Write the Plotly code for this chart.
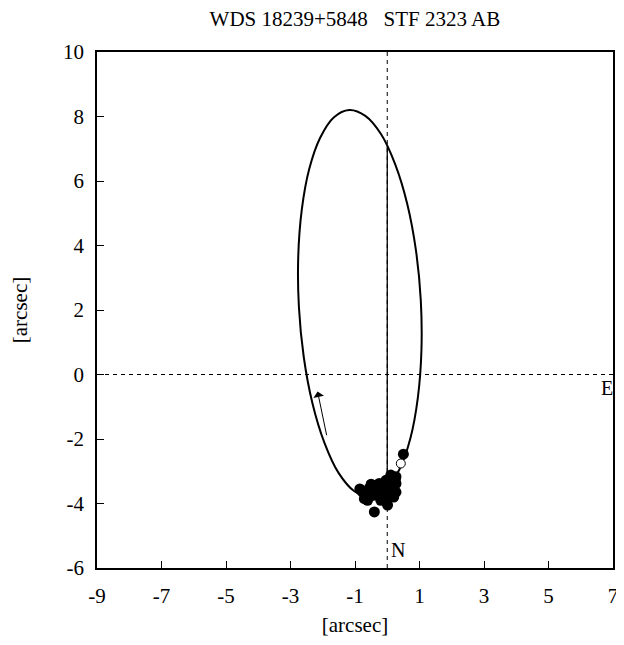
import plotly.graph_objects as go

# Orbit ellipse, points (arcsec)
orbit_x = [-1.18, -0.68, -0.19, 0.25, 0.62, 0.89, 1.04, 1.06, 0.95, 0.72, 0.38, -0.04, -0.52,
           -1.02, -1.51, -1.95, -2.32, -2.59, -2.74, -2.76, -2.65, -2.42, -2.08, -1.66, -1.18]
orbit_y = [8.20, 8.02, 7.45, 6.51, 5.29, 3.85, 2.30, 0.75, -0.71, -1.97, -2.94, -3.57, -3.80,
           -3.62, -3.05, -2.11, -0.89, 0.55, 2.10, 3.65, 5.11, 6.37, 7.34, 7.97, 8.20]

# Line of nodes
node_x = [0.0, 0.0]
node_y = [7.08, -3.56]

# Observations (filled)
obs_x = [0.50, 0.11, 0.27, 0.27, 0.27, -0.04, -0.25, -0.30, -0.56, -0.77, -0.71, -0.61, -0.40, 0.01,
         0.01, 0.18, 0.05, -0.15, -0.45, -0.35, -0.10, 0.20, -0.65, -0.20, 0.12, -0.50, -0.85, 0.25, -0.05]
obs_y = [-2.47, -3.12, -3.17, -3.38, -3.65, -3.28, -3.38, -3.69, -3.53, -3.64, -3.85, -3.90, -4.26, -3.85,
         -4.05, -3.50, -3.45, -3.55, -3.75, -3.45, -3.80, -3.80, -3.70, -3.90, -3.30, -3.40, -3.55, -3.25, -3.65]

# Open observation
open_x = [0.42]
open_y = [-2.76]

# Motion arrow (tail -> head)
arrow_tail = (-1.87, -1.93)
arrow_head = (-2.16, -0.53)

x_ticks = [-9, -7, -5, -3, -1, 1, 3, 5, 7]
y_ticks = [-6, -4, -2, 0, 2, 4, 6, 8, 10]

FONT = "Liberation Serif"
NB = "\u00a0"

fig = go.Figure()

# Dashed axes through origin
fig.add_trace(go.Scatter(x=[-9, 7], y=[0, 0], mode="lines",
                         line=dict(color="black", width=1, dash="4px,4px"), hoverinfo="skip"))
fig.add_trace(go.Scatter(x=[0, 0], y=[-6, 10], mode="lines",
                         line=dict(color="black", width=1, dash="4px,4px"), hoverinfo="skip"))

fig.add_trace(go.Scatter(x=orbit_x, y=orbit_y, mode="lines",
                         line=dict(color="black", width=2, shape="spline", smoothing=1.0)))
fig.add_trace(go.Scatter(x=node_x, y=node_y, mode="lines",
                         line=dict(color="black", width=1.3)))
fig.add_trace(go.Scatter(x=obs_x, y=obs_y, mode="markers",
                         marker=dict(color="black", size=11, line=dict(width=0))))
fig.add_trace(go.Scatter(x=open_x, y=open_y, mode="markers",
                         marker=dict(color="white", size=9, line=dict(color="black", width=1))))

fig.add_annotation(x=arrow_head[0], y=arrow_head[1], ax=arrow_tail[0], ay=arrow_tail[1],
                   xref="x", yref="y", axref="x", ayref="y", showarrow=True,
                   arrowhead=1, arrowsize=1.8, arrowwidth=1, arrowcolor="black", text="")

fig.add_annotation(x=6.82, y=-0.42, text="E", showarrow=False, xref="x", yref="y",
                   font=dict(family=FONT, size=20, color="black"))
fig.add_annotation(x=0.33, y=-5.45, text="N", showarrow=False, xref="x", yref="y",
                   font=dict(family=FONT, size=20, color="black"))

fig.update_layout(
    width=624, height=645,
    margin=dict(l=89, r=19, t=44, b=85),
    paper_bgcolor="white", plot_bgcolor="white",
    showlegend=False,
    font=dict(family=FONT, size=21, color="black"),
    title=dict(text="WDS 18239+5848" + NB * 3 + "STF 2323 AB", x=0.556, xanchor="center",
               y=0.984, yanchor="middle", font=dict(family=FONT, size=21, color="black")),
)
fig.update_xaxes(range=[-9, 7], tickvals=x_ticks, ticktext=[str(v) for v in x_ticks],
                 ticks="inside", ticklen=7, tickwidth=1, tickcolor="black",
                 ticklabelstandoff=8, automargin=False,
                 showline=True, linecolor="black", linewidth=1.5, mirror=True,
                 showgrid=False, zeroline=False,
                 title=dict(text="[arcsec]", font=dict(family=FONT, size=21), standoff=10))
fig.update_yaxes(range=[-6, 10], tickvals=y_ticks, ticktext=[str(v) for v in y_ticks],
                 ticks="inside", ticklen=7, tickwidth=1, tickcolor="black",
                 ticklabelstandoff=7, automargin=False,
                 showline=True, linecolor="black", linewidth=1.5, mirror=True,
                 showgrid=False, zeroline=False,
                 title=dict(text="[arcsec]", font=dict(family=FONT, size=21), standoff=33))

fig.write_html("out.html")
